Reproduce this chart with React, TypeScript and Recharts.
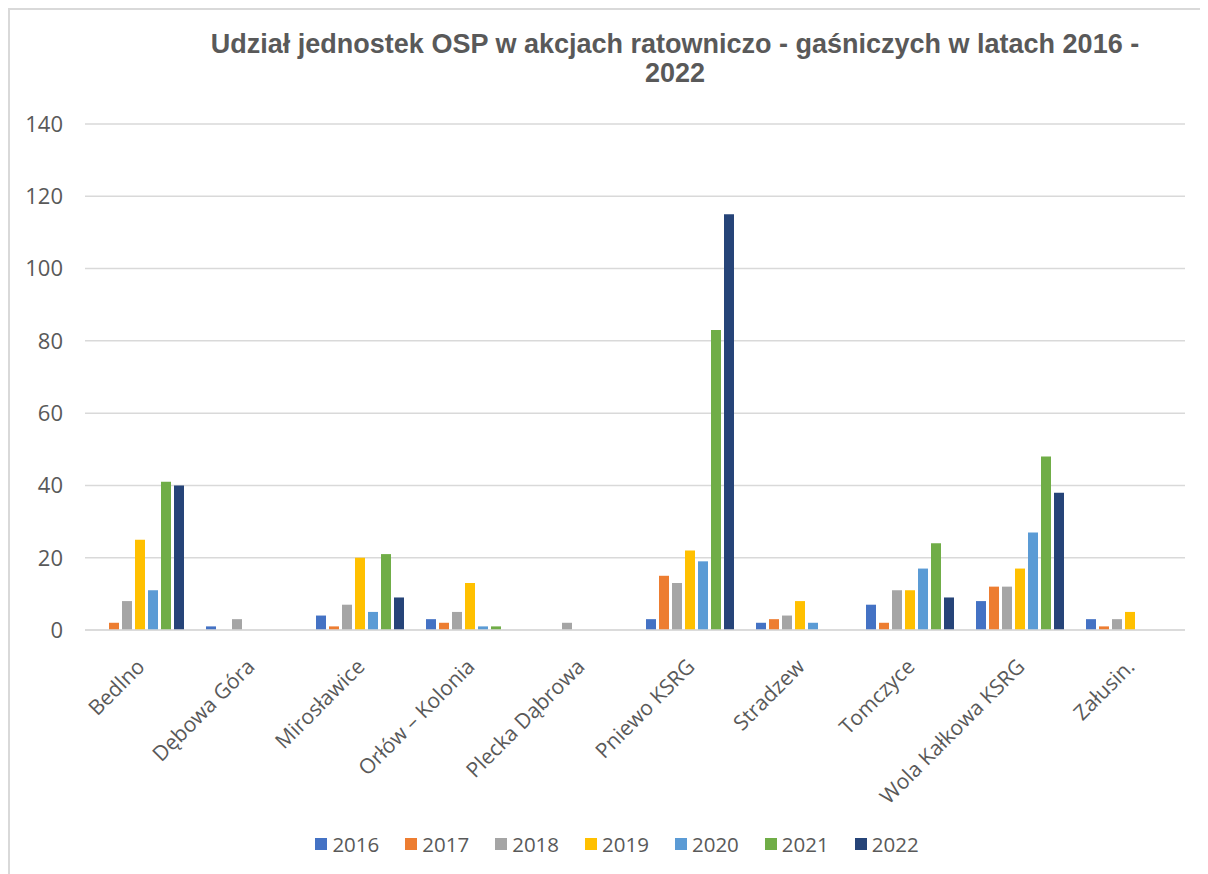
import { BarChart, Bar, XAxis, YAxis, CartesianGrid } from 'recharts';

const units = [
  'Bedlno',
  'Dębowa Góra',
  'Mirosławice',
  'Orłów – Kolonia',
  'Plecka Dąbrowa',
  'Pniewo KSRG',
  'Stradzew',
  'Tomczyce',
  'Wola Kałkowa KSRG',
  'Załusin.',
];

const years = ['2016', '2017', '2018', '2019', '2020', '2021', '2022'];
const colors = ['#4472C4', '#ED7D31', '#A5A5A5', '#FFC000', '#5B9BD5', '#70AD47', '#264478'];

const v2016 = [0, 1, 4, 3, 0, 3, 2, 7, 8, 3];
const v2017 = [2, 0, 1, 2, 0, 15, 3, 2, 12, 1];
const v2018 = [8, 3, 7, 5, 2, 13, 4, 11, 12, 3];
const v2019 = [25, 0, 20, 13, 0, 22, 8, 11, 17, 5];
const v2020 = [11, 0, 5, 1, 0, 19, 2, 17, 27, 0];
const v2021 = [41, 0, 21, 1, 0, 83, 0, 24, 48, 0];
const v2022 = [40, 0, 9, 0, 0, 115, 0, 9, 38, 0];

const yTicks = [0, 20, 40, 60, 80, 100, 120, 140];

const series = [v2016, v2017, v2018, v2019, v2020, v2021, v2022];

const data = units.map((name, i) => {
  const row: Record<string, string | number> = { name };
  years.forEach((y, j) => {
    row[y] = series[j][i];
  });
  return row;
});

const textColor = '#595959';
const gridColor = '#d9d9d9';

function CategoryTick(props: any) {
  const { x, y, payload } = props;
  const tx = x + 6;
  const ty = y + 36;
  return (
    <text
      x={tx}
      y={ty}
      textAnchor="end"
      fill={textColor}
      fontSize={21}
      fontFamily="'Open Sans', sans-serif"
      transform={`rotate(-45 ${tx} ${ty})`}
    >
      {payload.value}
    </text>
  );
}

export default function App() {
  return (
    <div
      style={{
        position: 'relative',
        width: 1190,
        height: 864,
        borderLeft: `2px solid ${gridColor}`,
        borderTop: `2px solid ${gridColor}`,
        background: '#fff',
        fontFamily: "'Open Sans', sans-serif",
      }}
    >
      <div
        style={{
          position: 'absolute',
          left: 0,
          top: 20,
          width: 1330,
          textAlign: 'center',
          fontFamily: "'Liberation Sans', Arial, sans-serif",
          fontWeight: 'bold',
          fontSize: 27,
          lineHeight: '29px',
          color: textColor,
        }}
      >
        Udział jednostek OSP w akcjach ratowniczo - gaśniczych w latach 2016 -
        <br />
        2022
      </div>
      <BarChart
        width={1190}
        height={862}
        data={data}
        margin={{ top: 114, right: 15, bottom: 42, left: 0 }}
        barSize={10}
        barGap={3}
      >
        <CartesianGrid vertical={false} stroke={gridColor} strokeWidth={1.5} />
        <XAxis
          dataKey="name"
          interval={0}
          height={200}
          tickLine={false}
          tickSize={0}
          axisLine={{ stroke: gridColor, strokeWidth: 1.5 }}
          tick={<CategoryTick />}
        />
        <YAxis
          width={75}
          domain={[0, 140]}
          ticks={yTicks}
          axisLine={false}
          tickLine={false}
          tickMargin={16}
          tick={{ fill: textColor, fontSize: 22, fontFamily: "'Open Sans', sans-serif" }}
        />
        {years.map((y, j) => (
          <Bar key={y} dataKey={y} fill={colors[j]} isAnimationActive={false} />
        ))}
      </BarChart>
      <div
        style={{
          position: 'absolute',
          top: 820,
          left: 0,
          width: 1214,
          display: 'flex',
          justifyContent: 'center',
          gap: 26,
          fontSize: 20.5,
          color: textColor,
        }}
      >
        {years.map((y, j) => (
          <div key={y} style={{ display: 'flex', alignItems: 'center' }}>
            <span
              style={{ width: 12, height: 12, background: colors[j], marginRight: 5, display: 'inline-block' }}
            />
            <span>{y}</span>
          </div>
        ))}
      </div>
    </div>
  );
}
